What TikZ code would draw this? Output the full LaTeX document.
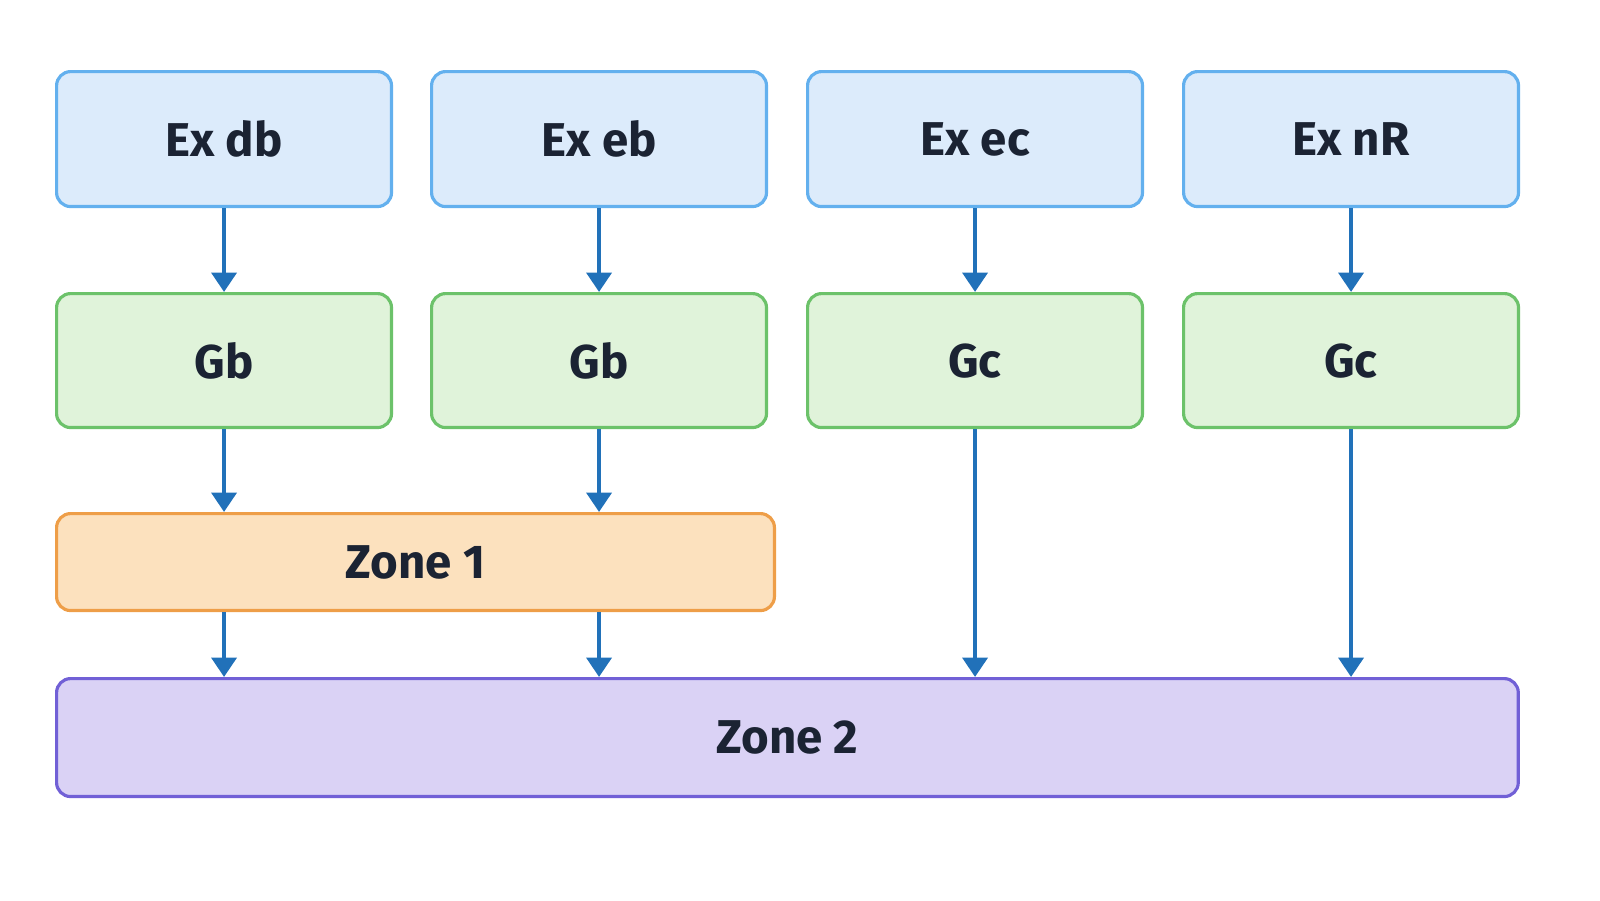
\documentclass[tikz,border=0pt]{standalone}
\usepackage{fontspec}
\setmainfont{Fira Sans}
\usetikzlibrary{arrows.meta,positioning}
\definecolor{exfill}{HTML}{DCEBFB}\definecolor{exdraw}{HTML}{63B0EE}
\definecolor{gfill}{HTML}{E0F3DA}\definecolor{gdraw}{HTML}{6CC26A}
\definecolor{zafill}{HTML}{FCE1BE}\definecolor{zadraw}{HTML}{EE9E48}
\definecolor{zbfill}{HTML}{DAD2F5}\definecolor{zbdraw}{HTML}{7160D6}
\definecolor{arr}{HTML}{2171B9}\definecolor{txt}{HTML}{1B2333}
\begin{document}
\begin{tikzpicture}[x=0.02cm,y=-0.02cm,>={Triangle[length=11pt,width=14pt]},
		box/.style={rectangle,rounded corners=8pt,line width=1.8pt,text=txt,font=\fontsize{27}{30}\selectfont\bfseries,anchor=north west,inner sep=0pt},
		ex/.style={box,fill=exfill,draw=exdraw,minimum width=6.7cm,minimum height=2.7cm},
		grp/.style={box,fill=gfill,draw=gdraw,minimum width=6.7cm,minimum height=2.68cm},
		link/.style={->,arr,line width=2.6pt}]
		\useasboundingbox (0,0) rectangle (1600,900);
		\node[ex]  (e1) at (55,70)   {Ex db};
		\node[ex]  (e2) at (430,70)  {Ex eb};
		\node[ex]  (e3) at (806,70)  {Ex ec};
		\node[ex]  (e4) at (1182,70) {Ex nR};
		\node[grp] (g1) at (55,292)   {Gb};
		\node[grp] (g2) at (430,292)  {Gb};
		\node[grp] (g3) at (806,292)  {Gc};
		\node[grp] (g4) at (1182,292) {Gc};
		\node[box,fill=zafill,draw=zadraw,minimum width=14.36cm,minimum height=1.94cm] (z1) at (55,512) {Zone 1};
		\node[box,fill=zbfill,draw=zbdraw,minimum width=29.24cm,minimum height=2.36cm] (z2) at (55,677) {Zone 2};

		\foreach \i in {1,...,4}
			\draw[link] (e\i) -- (g\i);
		\foreach \i in {1,2}{
			\draw[link] (g\i) -- (z1.north -| g\i);
			\draw[link] (z1.south -| g\i) -- (z2.north -| g\i);}
		\foreach \i in {3,4}
			\draw[link] (g\i) -- (z2.north -| g\i);
\end{tikzpicture}
\end{document}
